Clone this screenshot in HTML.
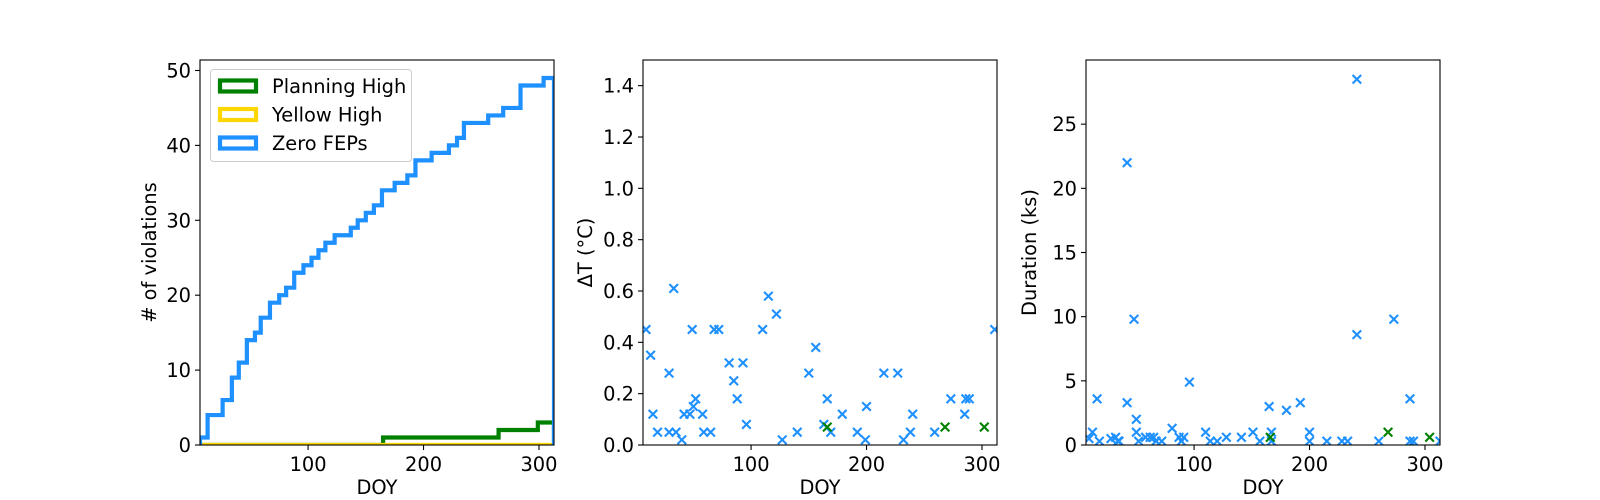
<!DOCTYPE html>
<html><head><meta charset="utf-8"><style>
body{margin:0;background:#fff}
svg{display:block;font-family:"DejaVu Sans","Liberation Sans",sans-serif}
</style></head><body>
<svg id="fig" width="1600" height="500"></svg>
<script>
// Panel 1: cumulative step data
const blueSteps = [6,13,26,34,40,47,54,59,67,75,81,88,96,103,109,115,123,137,143,150,157,164,175,186,193,207,222,229,235,256,269,284,304];
const blueCounts = [1,4,6,9,11,14,15,17,19,20,21,23,24,25,26,27,28,29,30,31,32,34,35,36,38,39,40,41,43,44,45,48,49];
const greenSteps = [165,265,299];
const greenCounts = [1,2,3];
const stepEnd = 313;
const yTicks1 = [0,10,20,30,40,50];
const xTicks = [100,200,300];
// Panel 2: delta T
const dtBlueX = [9,13,15,19,29,33,29,35,40,42,47,49,50,52,58,59,65,68,72,81,85,88,93,96,110,115,122,127,140,150,156,163,166,169,179,192,199,200,215,227,232,238,240,259,273,285,286,289,311];
const dtBlueY = [0.45,0.35,0.12,0.05,0.28,0.61,0.05,0.05,0.02,0.12,0.12,0.45,0.15,0.18,0.12,0.05,0.05,0.45,0.45,0.32,0.25,0.18,0.32,0.08,0.45,0.58,0.51,0.02,0.05,0.28,0.38,0.08,0.18,0.05,0.12,0.05,0.02,0.15,0.28,0.28,0.02,0.05,0.12,0.05,0.18,0.12,0.18,0.18,0.45];
const dtGreenX = [166,268,302];
const dtGreenY = [0.07,0.07,0.07];
const yTicks2 = [0,0.2,0.4,0.6,0.8,1.0,1.2,1.4];
// Panel 3: duration
const durBlueX = [9,12,16,18,28,32,34,35,42,42,48,50,50,52,58,62,65,67,72,81,87,89,91,96,110,114,120,128,141,151,157,165,167,167,180,192,200,200,215,228,233,241,241,260,273,287,287,290,313];
const durBlueY = [0.5,1.0,3.6,0.3,0.5,0.6,0.3,0.3,3.3,22,9.8,2,1,0.3,0.6,0.6,0.6,0.3,0.3,1.3,0.6,0.3,0.6,4.9,1,0.3,0.3,0.6,0.6,1,0.3,3,1,0.3,2.7,3.3,1,0.3,0.3,0.3,0.3,28.5,8.6,0.3,9.8,3.6,0.3,0.3,0.3];
const durGreenX = [166,268,304];
const durGreenY = [0.6,1,0.6];
const yTicks3 = [0,5,10,15,20,25];

const NS="http://www.w3.org/2000/svg";
const fig=document.getElementById('fig');
function mk(tag,attrs,parent){const e=document.createElementNS(NS,tag);for(const k in attrs)e.setAttribute(k,attrs[k]);(parent||fig).appendChild(e);return e;}
const BLUE="#1e90ff",GREEN="#008000",YEL="#ffd700";
const FS=19.4;
const TOP=60,BOT=445;

function axes(name,x0,x1,y0,y1,xmin,xmax,ymin,ymax){
  const g=mk('g',{});
  
  
  const sx=v=>x0+(v-xmin)/(xmax-xmin)*(x1-x0);
  const sy=v=>y1-(v-ymin)/(ymax-ymin)*(y1-y0);
  const cid=name+'-clip';
  const cp=mk('clipPath',{id:cid},g);mk('rect',{x:x0,y:y0,width:x1-x0,height:y1-y0},cp);
  const plot=mk('g',{'clip-path':'url(#'+cid+')'},g);
  return {g,plot,sx,sy,x0,x1,y0,y1};
}
function frame(a,yt,fmt,xlabel,ylabel,ylx){
  const f=mk('rect',{x:a.x0,y:a.y0,width:a.x1-a.x0,height:a.y1-a.y0,fill:'none',stroke:'#000','stroke-width':1.1},a.g);
  
  
  xTicks.forEach(v=>{const x=a.sx(v);mk('line',{x1:x,x2:x,y1:a.y1,y2:a.y1+5,stroke:'#000','stroke-width':1.1},a.g);
    const t=mk('text',{x:x,y:a.y1+26,'text-anchor':'middle','font-size':FS},a.g);t.textContent=v;
    
    });
  yt.forEach(v=>{const y=a.sy(v);mk('line',{x1:a.x0-5,x2:a.x0,y1:y,y2:y,stroke:'#000','stroke-width':1.1},a.g);
    const t=mk('text',{x:a.x0-9,y:y+7,'text-anchor':'end','font-size':FS},a.g);t.textContent=fmt(v);
    
    });
  const xl=mk('text',{x:(a.x0+a.x1)/2,y:494,'text-anchor':'middle','font-size':FS},a.g);xl.textContent=xlabel;
  
  
  const cy=(a.y0+a.y1)/2;
  const yl=mk('text',{x:ylx,y:cy,'text-anchor':'middle','font-size':FS,transform:'rotate(-90 '+ylx+' '+cy+')'},a.g);yl.textContent=ylabel;
  
  
}
function stepPath(a,steps,counts,start,end){
  let d='M'+a.sx(start)+','+a.sy(0);
  for(let i=0;i<steps.length;i++){
    d+=' L'+a.sx(steps[i])+','+a.sy(i? counts[i-1]:0)+' L'+a.sx(steps[i])+','+a.sy(counts[i]);
  }
  d+=' L'+a.sx(end)+','+a.sy(counts[counts.length-1])+' L'+a.sx(end)+','+a.sy(0);
  return d;
}
function xmark(a,xs,ys,color,name){
  xs.forEach((v,i)=>{const x=a.sx(v),y=a.sy(ys[i]),r=4.3;
    const p=mk('path',{d:`M${x-r},${y-r}L${x+r},${y+r}M${x-r},${y+r}L${x+r},${y-r}`,stroke:color,'stroke-width':2.1,fill:'none'},a.plot);
    
    });
}

// Panel 1
const a1=axes('cumulative-violations-panel',200,554,TOP,BOT,6.4,313,0,51.4);
const gp=mk('path',{d:stepPath(a1,greenSteps,greenCounts,6.4,stepEnd),fill:'none',stroke:GREEN,'stroke-width':4.2},a1.plot);


const yp=mk('path',{d:'M'+a1.sx(6.4)+','+a1.sy(0)+' L'+a1.sx(greenSteps[0])+','+a1.sy(0)+' M'+a1.sx(greenSteps[0])+','+a1.sy(0)+' L'+a1.sx(stepEnd)+','+a1.sy(0),fill:'none',stroke:YEL,'stroke-width':4.2},a1.plot);


let bd='M'+a1.sx(6.4)+','+a1.sy(0)+' L'+a1.sx(6.4)+','+a1.sy(blueCounts[0]);
for(let i=1;i<blueSteps.length;i++){bd+=' L'+a1.sx(blueSteps[i])+','+a1.sy(blueCounts[i-1])+' L'+a1.sx(blueSteps[i])+','+a1.sy(blueCounts[i]);}
bd+=' L'+a1.sx(stepEnd)+','+a1.sy(blueCounts[blueCounts.length-1])+' L'+a1.sx(stepEnd)+','+a1.sy(0);
const bp=mk('path',{d:bd,fill:'none',stroke:BLUE,'stroke-width':4.2},a1.plot);


frame(a1,yTicks1,v=>v,'DOY','# of violations',156);
// legend
const lg=mk('g',{},a1.g);


mk('rect',{x:210.5,y:69.5,width:201,height:92,rx:3,fill:'#fff','fill-opacity':0.8,stroke:'#ccc'},lg);
[['Planning High',GREEN],['Yellow High',YEL],['Zero FEPs',BLUE]].forEach((e,i)=>{
  const y=86+i*28.5;
  const ge=mk('g',{},lg);
  
  
  mk('rect',{x:220,y:y-5.5,width:36,height:11,fill:'none',stroke:e[1],'stroke-width':4.2},ge);
  const t=mk('text',{x:272,y:y+7,'font-size':FS},ge);t.textContent=e[0];
});

// Panel 2
const a2=axes('delta-t-panel',643,997,TOP,BOT,6.4,313,0,1.5);
xmark(a2,dtBlueX,dtBlueY,BLUE,'delta-t-point-zero-feps');
xmark(a2,dtGreenX,dtGreenY,GREEN,'delta-t-point-planning-high');
frame(a2,yTicks2,v=>v.toFixed(1),'DOY','ΔT (°C)',592);

// Panel 3
const a3=axes('duration-panel',1086,1440,TOP,BOT,6.4,313,0,30);
xmark(a3,durBlueX,durBlueY,BLUE,'duration-point-zero-feps');
xmark(a3,durGreenX,durGreenY,GREEN,'duration-point-planning-high');
frame(a3,yTicks3,v=>v,'DOY','Duration (ks)',1036);
</script>
</body></html>
